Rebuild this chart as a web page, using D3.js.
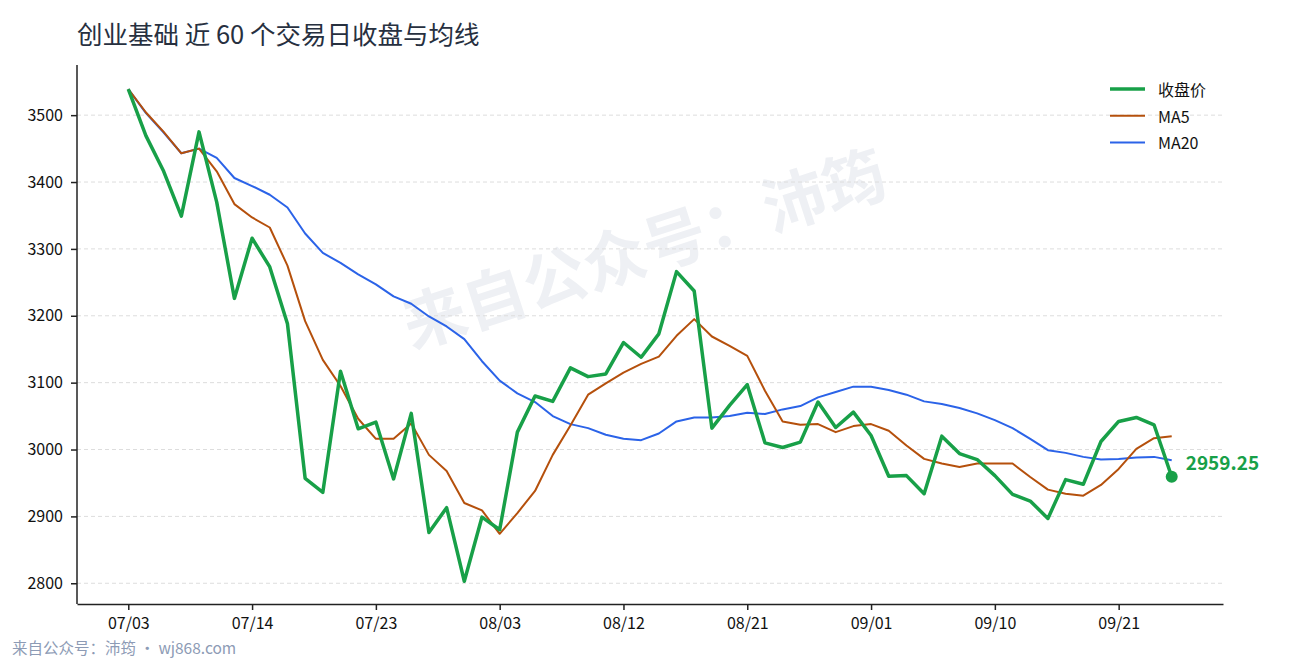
<!DOCTYPE html>
<html>
<head>
<meta charset="utf-8">
<script src="https://cdn.jsdelivr.net/npm/d3@7"></script>
<style>
  html, body { margin: 0; padding: 0; background: #ffffff; }
  svg { display: block; font-family: "Noto Sans CJK SC", "Noto Sans", sans-serif; }
</style>
</head>
<body>
<svg id="chart" width="1290" height="660"></svg>
<script>
// ---------- data ----------
const dates = [
  "07/03","07/04","07/07","07/08","07/09","07/10","07/11","07/14",
  "07/15","07/16","07/17","07/18","07/21","07/22","07/23",
  "07/24","07/25","07/28","07/29","07/30","07/31","08/03",
  "08/04","08/05","08/06","08/07","08/08","08/11","08/12",
  "08/13","08/14","08/15","08/18","08/19","08/20","08/21",
  "08/22","08/25","08/26","08/27","08/28","08/29","09/01",
  "09/02","09/03","09/04","09/05","09/08","09/09","09/10",
  "09/11","09/12","09/15","09/16","09/17","09/18","09/21",
  "09/22","09/23","09/24"
];
const closeValues = [
  3539,3469,3416,3349,3475,3370,3226,3316,3273,3188,
  2957,2936,3117,3031,3041,2956,3054,2876,2913,2803,
  2899,2880,3026,3080,3072,3122,3109,3113,3160,3138,
  3173,3266,3237,3032,3066,3097,3010,3003,3011,3071,
  3033,3056,3021,2960,2961,2934,3020,2994,2985,2961,
  2933,2923,2897,2955,2948,3012,3042,3048,3037,2959.25
];
const ma5Values = [
  3539,3504,3475,3443,3450,3416,3367,3347,3332,3275,
  3192,3134,3095,3046,3016,3016,3039,2992,2968,2920,
  2909,2874,2905,2938,2992,3036,3082,3099,3115,3128,
  3139,3170,3195,3169,3155,3140,3088,3042,3037,3038,
  3026,3035,3038,3028,3006,2986,2979,2974,2979,2979,
  2979,2959,2940,2934,2931,2947,2971,3001,3017,3020
];
const ma20Values = [
  3539,3503,3474,3443,3450,3436,3406,3394,3381,3362,
  3323,3294,3279,3262,3247,3229,3218,3199,3184,3165,
  3132,3103,3084,3071,3050,3038,3032,3022,3016,3014,
  3024,3042,3048,3048,3050,3055,3053,3060,3065,3078,
  3086,3094,3094,3089,3082,3072,3068,3062,3054,3044,
  3032,3016,2999,2995,2989,2985,2986,2988,2989,2984
];
const yDomain = [2769, 3575];
const yTicks = [2800,2900,3000,3100,3200,3300,3400,3500];
const xTickLabels = ["07/03","07/14","07/23","08/03","08/12","08/21","09/01","09/10","09/21"];
const seriesNames = ["收盘价","MA5","MA20"];
const titleText = "创业基础 近 60 个交易日收盘与均线";
const watermarkText = "来自公众号：沛筠";
const footerText = "来自公众号：沛筠 · wj868.com";

// ---------- layout ----------
const W = 1290, H = 660;
const M = { left: 77, right: 1223, top: 65, bottom: 604 };
const colors = { close: "#18a048", ma5: "#b5500c", ma20: "#2b63e8" };

const svg = d3.select("#chart");
svg.append("rect").attr("width", W).attr("height", H).attr("fill", "#ffffff");

const x = d3.scalePoint().domain(dates).range([M.left, M.right]).padding(2.9);
const y = d3.scaleLinear().domain(yDomain).range([M.bottom, M.top]);

// watermark
svg.append("text")
  .attr("transform", "translate(643,245) rotate(-18)")
  .attr("text-anchor", "middle")
  .attr("dominant-baseline", "central")
  .attr("font-size", 63)
  .attr("font-weight", 700)
  .attr("fill", "#eef0f4")
  .text(watermarkText);

// grid
svg.append("g").selectAll("line").data(yTicks).join("line")
  .attr("x1", M.left).attr("x2", M.right)
  .attr("y1", d => y(d)).attr("y2", d => y(d))
  .attr("stroke", "#dddddd").attr("stroke-width", 1)
  .attr("stroke-dasharray", "4,3");

// lines
const line = vals => d3.line().x((d, i) => x(dates[i])).y(d => y(d))(vals);
svg.append("path").attr("d", line(ma20Values)).attr("fill", "none")
  .attr("stroke", colors.ma20).attr("stroke-width", 2).attr("stroke-linejoin", "round");
svg.append("path").attr("d", line(ma5Values)).attr("fill", "none")
  .attr("stroke", colors.ma5).attr("stroke-width", 2).attr("stroke-linejoin", "round");
svg.append("path").attr("d", line(closeValues)).attr("fill", "none")
  .attr("stroke", colors.close).attr("stroke-width", 3.5).attr("stroke-linejoin", "round");

// last point marker & label
const lastI = closeValues.length - 1;
svg.append("circle")
  .attr("cx", x(dates[lastI])).attr("cy", y(closeValues[lastI])).attr("r", 6)
  .attr("fill", colors.close);
svg.append("text")
  .attr("x", x(dates[lastI]) + 14).attr("y", y(closeValues[lastI]) - 12)
  .attr("font-size", 19).attr("font-weight", 700).attr("fill", colors.close)
  .attr("dominant-baseline", "middle")
  .text(closeValues[lastI].toFixed(2));

// axes
const yAxis = d3.axisLeft(y).tickValues(yTicks).tickFormat(d3.format("d"))
  .tickSize(6).tickSizeOuter(0).tickPadding(8);
const gy = svg.append("g").attr("transform", `translate(${M.left},0)`).call(yAxis);
const xAxis = d3.axisBottom(x).tickValues(xTickLabels).tickSize(6).tickSizeOuter(0).tickPadding(8);
const gx = svg.append("g").attr("transform", `translate(0,${M.bottom})`).call(xAxis);
[gy, gx].forEach(g => {
  g.select(".domain").attr("stroke", "#222").attr("stroke-width", 1.5);
  g.selectAll(".tick line").attr("stroke", "#222").attr("stroke-width", 1.5);
  g.selectAll(".tick text").attr("font-size", 16).attr("fill", "#111")
    .attr("font-family", "'Noto Sans CJK SC', 'Noto Sans', sans-serif");
});
gy.select(".domain").attr("d", `M0,${M.top}V${M.bottom}`);

// title
svg.append("text").attr("x", 77).attr("y", 44)
  .attr("font-size", 25.5).attr("fill", "#27303f").text(titleText);

// legend
const legend = svg.append("g");
const legendItems = [
  { name: seriesNames[0], color: colors.close, w: 3.5 },
  { name: seriesNames[1], color: colors.ma5, w: 2 },
  { name: seriesNames[2], color: colors.ma20, w: 2 }
];
legendItems.forEach((d, i) => {
  const ly = 89 + i * 26.7;
  legend.append("line").attr("x1", 1110).attr("x2", 1145).attr("y1", ly).attr("y2", ly)
    .attr("stroke", d.color).attr("stroke-width", d.w);
  legend.append("text").attr("x", 1158).attr("y", ly).attr("dominant-baseline", "central")
    .attr("font-size", 16).attr("fill", "#111").text(d.name);
});

// footer
svg.append("text").attr("x", 12).attr("y", 654)
  .attr("font-size", 15.5).attr("fill", "#8d9bb5").text(footerText);
</script>
</body>
</html>
